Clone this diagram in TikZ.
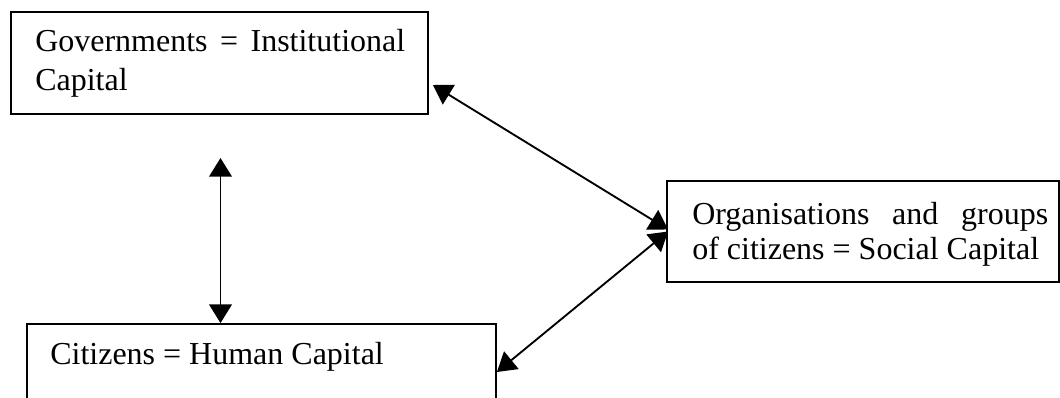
\documentclass[tikz,border=0pt]{standalone}
\usepackage{fontspec}
\setmainfont{Liberation Serif}
\usetikzlibrary{arrows.meta}
\begin{document}
\begin{tikzpicture}[x=0.75pt,y=-0.75pt,
  box/.style={draw, line width=1.4pt, rectangle, inner sep=0pt},
  txt/.style={inner sep=0pt, anchor=base west, font=\fontsize{24pt}{28pt}\selectfont},
  link/.style={line width=1.4pt, {Triangle[length=14pt,width=17pt]}-{Triangle[length=14pt,width=17pt]}}]
\useasboundingbox (0,0) rectangle (1060,398);

% boxes
\node[box, minimum width=312.75pt, minimum height=76.5pt] (gov) at (219.5,63) {};
\node[box, minimum width=294pt, minimum height=75.75pt] (org) at (863,231.5) {};
\node[box, minimum width=351.75pt, minimum height=72pt] (cit) at (261.5,372) {};

% texts
\node[txt] (gov1) at (35,52) {\makebox[277.5pt][s]{Governments = Institutional}};
\node[txt] (gov2) at (35,91) {Capital};
\node[txt] (org1) at (692,225) {\makebox[267pt][s]{Organisations and groups}};
\node[txt] (org2) at (692,260) {of citizens = Social Capital};
\node[txt] (cit1) at (50,365) {Citizens = Human Capital};

% connectors
\coordinate (vt) at (220.5,158);
\draw[link] (vt) -- (vt |- cit.north);
\draw[link] ([shift={(4,22)}]gov.east) -- ([shift={(2,-2)}]org.west);
\draw[link] ([shift={(2,0)}]org.west) -- (cit.east);
\end{tikzpicture}
\end{document}
